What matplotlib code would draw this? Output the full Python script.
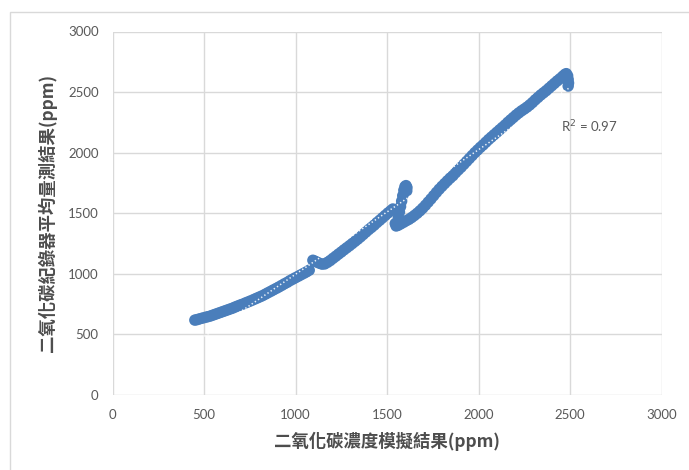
import matplotlib
matplotlib.use("Agg")
import matplotlib.pyplot as plt
import numpy as np
from matplotlib.patches import Rectangle

# simulated CO2 concentration (ppm) vs. logger mean reading (ppm)
sim_low = [450, 462, 475, 490, 505, 520, 535, 550, 565, 580, 595, 610, 625, 640,
           655, 670, 685, 700, 715, 730, 745, 760, 775, 790, 805, 820, 835, 850,
           865, 880, 895, 910, 925, 940, 955, 970, 985, 1000, 1015, 1030, 1045,
           1060, 1075]
meas_low = [618, 622, 628, 634, 640, 646, 652, 660, 668, 676, 684, 692, 700, 708,
            716, 726, 735, 744, 752, 762, 771, 780, 790, 800, 810, 820, 832, 844,
            856, 868, 880, 892, 905, 918, 930, 944, 956, 968, 980, 992, 1004,
            1016, 1030]

sim_mid = [1095, 1105, 1115, 1130, 1145, 1160, 1175, 1190, 1205, 1220, 1235, 1250,
           1265, 1280, 1295, 1310, 1325, 1340, 1355, 1370, 1385, 1400, 1415, 1430,
           1445, 1460, 1475, 1490, 1505, 1520, 1532]
meas_mid = [1112, 1105, 1098, 1088, 1080, 1082, 1095, 1110, 1128, 1145, 1163, 1180,
            1198, 1215, 1232, 1250, 1268, 1286, 1305, 1325, 1345, 1365, 1383, 1402,
            1423, 1442, 1462, 1482, 1502, 1520, 1535]

sim_jump = [1545, 1550, 1556, 1562, 1568, 1574, 1580, 1586, 1592, 1598, 1604, 1609, 1608]
meas_jump = [1415, 1395, 1420, 1465, 1510, 1555, 1600, 1645, 1690, 1720, 1728, 1712, 1685]

sim_high = [1560, 1575, 1590, 1605, 1620, 1635, 1650, 1665, 1680, 1695, 1710, 1725,
            1740, 1755, 1770, 1785, 1800, 1815, 1830, 1845, 1860, 1875, 1890, 1905,
            1920, 1935, 1950, 1965, 1980, 1995, 2010, 2025, 2040, 2055, 2070, 2085,
            2100, 2115, 2130, 2145, 2160, 2175, 2190, 2205, 2220, 2235, 2250, 2265,
            2280, 2295, 2310, 2325, 2340, 2355, 2370, 2385, 2400, 2415, 2430, 2445,
            2460, 2472, 2480, 2487, 2490, 2492, 2490]
meas_high = [1400, 1412, 1425, 1438, 1450, 1465, 1482, 1500, 1520, 1542, 1566, 1592,
             1618, 1645, 1672, 1698, 1722, 1745, 1768, 1790, 1810, 1835, 1858, 1880,
             1904, 1928, 1952, 1976, 2000, 2022, 2044, 2064, 2086, 2108, 2128, 2148,
             2168, 2188, 2208, 2228, 2250, 2270, 2290, 2310, 2328, 2345, 2360, 2376,
             2394, 2414, 2436, 2456, 2476, 2494, 2512, 2532, 2552, 2572, 2592, 2610,
             2630, 2646, 2652, 2635, 2605, 2575, 2550]

r2_label = "R$^2$ = 0.97"
x_title = "二氧化碳濃度模擬結果(ppm)"
y_title = "二氧化碳紀錄器平均量測結果(ppm)"
ticks = [0, 500, 1000, 1500, 2000, 2500, 3000]

sim = np.array(sim_low + sim_mid + sim_jump + sim_high, dtype=float)
meas = np.array(meas_low + meas_mid + meas_jump + meas_high, dtype=float)

blue = "#4a7ebb"
grey = "#595959"
cjk = ["Noto Sans CJK TC", "DejaVu Sans"]

fig = plt.figure(figsize=(6.89, 4.70), dpi=100)
fig.patches.append(Rectangle((10 / 689, -0.1), 1.2, 1 - 12 / 470 + 0.1,
                             transform=fig.transFigure, fill=False,
                             edgecolor="#d9d9d9", linewidth=1.0))

ax = fig.add_axes([112.5 / 689, 1 - 395 / 470, 549 / 689, 363.5 / 470])
ax.scatter(sim, meas, s=68, color=blue, edgecolors="none", zorder=3)

# linear trendline
coef = np.polyfit(sim, meas, 1)
xs = np.array([sim.min(), sim.max()])
ax.plot(xs, np.polyval(coef, xs), color="white", lw=1.1,
        linestyle=(0, (0.9, 1.6)), alpha=0.9, zorder=4)

ax.set_xlim(0, 3000)
ax.set_ylim(0, 3000)
ax.set_xticks(ticks)
ax.set_yticks(ticks)
ax.grid(True, color="#d9d9d9", linewidth=1.0, zorder=0)
ax.set_axisbelow(True)
for s in ax.spines.values():
    s.set_visible(False)
ax.tick_params(length=0, colors=grey, labelsize=9.5, pad=10)
for lab in ax.get_xticklabels() + ax.get_yticklabels():
    lab.set_family("Lato")

ax.text(2450, 2215, r2_label, color=grey, fontsize=9.5, family="Lato",
        va="center", ha="left")

ax.set_xlabel(x_title, family=cjk, fontsize=12.5, color="#4d4d4d",
              fontweight="bold", labelpad=8)
ax.set_ylabel(y_title, family=cjk, fontsize=12.5, color="#4d4d4d",
              fontweight="bold", labelpad=8)

fig.savefig("out.png", dpi=100)
